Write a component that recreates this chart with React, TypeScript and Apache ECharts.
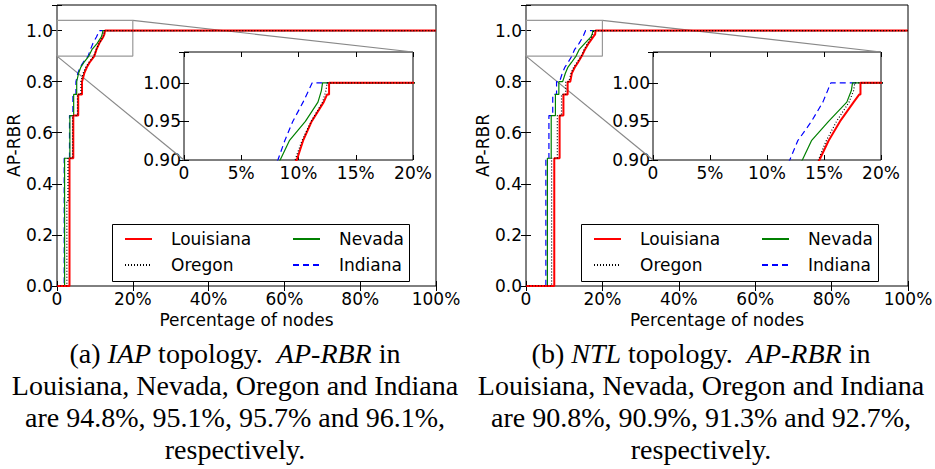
import React, { useEffect, useRef } from 'react';
import * as echarts from 'echarts';

// ---------- data (x = percentage of nodes, y = AP-RBR) ----------
const iapLouisiana: [number, number][] = [[0, 0], [3.3, 0], [3.3, 0.5], [4.3, 0.5], [4.3, 0.667], [5.6, 0.667], [5.6, 0.75], [6.6, 0.75], [6.6, 0.8], [7.2, 0.833], [7.9, 0.857], [8.6, 0.875], [9.85, 0.9], [10.4, 0.925], [11.15, 0.95], [12.2, 0.975], [12.5, 0.985], [12.67, 0.985], [12.67, 1.0], [100, 1.0]];
const iapOregon: [number, number][] = [[0, 0], [2.6, 0], [2.6, 0.333], [2.9, 0.333], [2.9, 0.5], [4.1, 0.5], [4.1, 0.667], [5.4, 0.667], [5.4, 0.75], [6.3, 0.75], [6.3, 0.8], [6.9, 0.833], [7.6, 0.857], [8.4, 0.875], [9.7, 0.9], [10.3, 0.925], [11.1, 0.95], [12.1, 0.975], [12.4, 0.99], [12.5, 1.0], [100, 1.0]];
const iapNevada: [number, number][] = [[0, 0], [2.0, 0], [2.0, 0.5], [3.4, 0.5], [3.4, 0.667], [4.4, 0.667], [4.4, 0.75], [5.2, 0.75], [5.2, 0.8], [5.7, 0.833], [6.3, 0.857], [7.1, 0.875], [8.4, 0.9], [9.2, 0.925], [10.6, 0.95], [11.7, 0.975], [12.0, 0.99], [12.1, 1.0], [100, 1.0]];
const iapIndiana: [number, number][] = [[0, 0], [1.9, 0], [1.9, 0.5], [3.3, 0.5], [3.3, 0.667], [4.2, 0.667], [4.2, 0.75], [5.0, 0.75], [5.0, 0.8], [5.5, 0.833], [6.1, 0.857], [6.9, 0.875], [8.2, 0.9], [8.8, 0.925], [9.5, 0.95], [10.4, 0.975], [11.2, 1.0], [100, 1.0]];

const ntlLouisiana: [number, number][] = [[0, 0], [7.4, 0], [7.4, 0.5], [8.8, 0.5], [8.8, 0.667], [9.8, 0.667], [9.8, 0.75], [10.9, 0.75], [10.9, 0.8], [11.6, 0.8], [12.0, 0.833], [12.8, 0.857], [13.6, 0.875], [14.6, 0.9], [15.4, 0.925], [16.4, 0.95], [17.6, 0.975], [18.1, 0.985], [18.2, 0.985], [18.2, 1.0], [100, 1.0]];
const ntlOregon: [number, number][] = [[0, 0], [6.7, 0], [6.7, 0.5], [8.2, 0.5], [8.2, 0.667], [9.3, 0.667], [9.3, 0.75], [10.4, 0.75], [10.4, 0.8], [11.2, 0.8], [11.8, 0.833], [12.5, 0.857], [13.3, 0.875], [14.5, 0.9], [15.2, 0.925], [16.1, 0.95], [17.2, 0.975], [17.6, 0.99], [17.7, 1.0], [100, 1.0]];
const ntlNevada: [number, number][] = [[0, 0], [5.6, 0], [5.6, 0.5], [6.6, 0.5], [6.6, 0.667], [7.7, 0.667], [7.7, 0.75], [8.6, 0.75], [8.6, 0.8], [9.6, 0.8], [10.3, 0.833], [11.0, 0.857], [11.9, 0.875], [13.1, 0.9], [13.9, 0.925], [15.4, 0.95], [17.0, 0.975], [17.4, 0.99], [17.5, 1.0], [100, 1.0]];
const ntlIndiana: [number, number][] = [[0, 0], [5.2, 0], [5.2, 0.5], [6.0, 0.5], [6.0, 0.667], [7.0, 0.667], [7.0, 0.75], [8.0, 0.75], [8.0, 0.8], [8.8, 0.8], [9.5, 0.833], [10.2, 0.857], [11.0, 0.875], [12.0, 0.9], [12.7, 0.925], [13.9, 0.95], [14.9, 0.975], [15.6, 1.0], [100, 1.0]];

const zoomBox: [number, number][] = [[0, 0.9], [20, 0.9], [20, 1.04], [0, 1.04], [0, 0.9]];

const legendCol1 = ['Louisiana', 'Oregon'];
const legendCol2 = ['Nevada', 'Indiana'];
const drawOrder = ['Indiana', 'Nevada', 'Louisiana', 'Oregon'];

const captionA = ['Louisiana, Nevada, Oregon and Indiana', 'are 94.8%, 95.1%, 95.7% and 96.1%,', 'respectively.'];
const captionB = ['Louisiana, Nevada, Oregon and Indiana', 'are 90.8%, 90.9%, 91.3% and 92.7%,', 'respectively.'];

// ---------- styles ----------
const FONT = 'DejaVu Sans';
const SERIF = 'Liberation Serif';
const FS = 17;
const lineStyles: Record<string, any> = {
  Louisiana: { color: '#ff0000', width: 2, type: 'solid' },
  Oregon: { color: '#000000', width: 1.2, type: [1, 2] },
  Nevada: { color: '#008000', width: 1.2, type: 'solid' },
  Indiana: { color: '#0000ff', width: 1.2, type: [6, 4] },
};

const pctFmt = (v: number) => (v === 0 ? '0' : `${Math.round(v)}%`);

function mkX(gridIndex: number, max: number, interval: number, top: boolean) {
  return {
    type: 'value', gridIndex, min: 0, max, interval,
    position: top ? 'top' : 'bottom',
    axisLine: { show: false },
    splitLine: { show: false },
    axisTick: { show: true, inside: true, length: 5, lineStyle: { color: '#000', width: 1 } },
    axisLabel: { show: !top, color: '#000', fontFamily: FONT, fontSize: FS, margin: 4, formatter: pctFmt },
  };
}
function mkY(gridIndex: number, min: number, max: number, interval: number, right: boolean, digits: number, limit: number) {
  return {
    type: 'value', gridIndex, min, max, interval,
    position: right ? 'right' : 'left',
    axisLine: { show: false },
    splitLine: { show: false },
    axisTick: { show: true, inside: true, length: 5, lineStyle: { color: '#000', width: 1 } },
    axisLabel: {
      show: !right, color: '#000', fontFamily: FONT, fontSize: FS, margin: digits === 2 ? 3 : 4,
      formatter: (v: number) => (v > limit + 1e-6 ? '' : v.toFixed(digits)),
    },
  };
}

export default function App() {
  const ref = useRef<HTMLDivElement>(null);
  useEffect(() => {
    if (!ref.current) return;
    const chart = echarts.init(ref.current, null, { renderer: 'svg' });
    const topo = [
      { Louisiana: iapLouisiana, Oregon: iapOregon, Nevada: iapNevada, Indiana: iapIndiana } as Record<string, [number, number][]>,
      { Louisiana: ntlLouisiana, Oregon: ntlOregon, Nevada: ntlNevada, Indiana: ntlIndiana } as Record<string, [number, number][]>,
    ];
    const mainLeft = [57, 526];
    const mainWidth = [379, 382];
    const insetLeft = [184, 653];
    const insetWidth = [229, 228];
    const grids: any[] = [];
    const xAxes: any[] = [];
    const yAxes: any[] = [];
    const series: any[] = [];
    const rectSeriesIdx: number[] = [];
    const insetSeriesIdx: number[] = [];
    for (let t = 0; t < 2; t++) {
      grids.push({ left: mainLeft[t], top: 5, width: mainWidth[t], height: 281, show: true, borderColor: '#000', borderWidth: 1, backgroundColor: 'transparent', outerBoundsMode: 'none', containLabel: false });
      grids.push({ left: insetLeft[t], top: 52, width: insetWidth[t], height: 108, show: true, borderColor: '#000', borderWidth: 1, backgroundColor: '#fff', outerBoundsMode: 'none', containLabel: false });
      const g0 = 2 * t, g1 = 2 * t + 1;
      const xm = xAxes.length;
      xAxes.push({
        ...mkX(g0, 100, 20, false),
        name: 'Percentage of nodes', nameLocation: 'middle', nameGap: 21,
        nameTextStyle: { color: '#000', fontFamily: FONT, fontSize: FS },
      });
      xAxes.push(mkX(g0, 100, 20, true));
      const xi = xAxes.length;
      xAxes.push(mkX(g1, 20, 5, false));
      xAxes.push(mkX(g1, 20, 5, true));
      const ym = yAxes.length;
      yAxes.push({
        ...mkY(g0, 0, 1.1, 0.2, false, 1, 1.0),
        name: 'AP-RBR', nameLocation: 'middle', nameGap: 27,
        nameTextStyle: { color: '#000', fontFamily: FONT, fontSize: FS },
      });
      yAxes.push(mkY(g0, 0, 1.1, 0.2, true, 1, 1.0));
      const yi = yAxes.length;
      yAxes.push(mkY(g1, 0.9, 1.04, 0.05, false, 2, 1.0));
      yAxes.push(mkY(g1, 0.9, 1.04, 0.05, true, 2, 1.0));

      rectSeriesIdx.push(series.length);
      series.push({
        type: 'line', name: 'zoom box', xAxisIndex: xm, yAxisIndex: ym, data: zoomBox,
        symbol: 'none', silent: true, z: 1, lineStyle: { color: '#999', width: 1.2 },
      });
      for (const r of drawOrder) {
        series.push({
          type: 'line', name: r, xAxisIndex: xm, yAxisIndex: ym, data: topo[t][r],
          symbol: 'none', lineStyle: lineStyles[r], itemStyle: { color: lineStyles[r].color },
        });
      }
      insetSeriesIdx.push(series.length);
      for (const r of drawOrder) {
        series.push({
          type: 'line', name: r, xAxisIndex: xi, yAxisIndex: yi, data: topo[t][r],
          symbol: 'none', lineStyle: lineStyles[r], itemStyle: { color: lineStyles[r].color },
        });
      }
    }

    const legendBase = {
      orient: 'vertical', itemWidth: 27, itemHeight: 12, itemGap: 9, padding: 0,
      selectedMode: false,
      itemStyle: { opacity: 0 },
      textStyle: { color: '#000', fontFamily: FONT, fontSize: FS, padding: [0, 0, 0, 14] },
    };
    const legends = [
      { ...legendBase, data: legendCol1, left: 124, top: 230.5 },
      { ...legendBase, data: legendCol2, left: 292, top: 230.5 },
      { ...legendBase, data: legendCol1, left: 593, top: 230.5 },
      { ...legendBase, data: legendCol2, left: 761, top: 230.5 },
    ];

    chart.setOption({
      animation: false,
      backgroundColor: '#fff',
      grid: grids,
      xAxis: xAxes,
      yAxis: yAxes,
      legend: legends,
      series,
    });

    const serif = { fontFamily: SERIF, fontSize: 28, color: '#000' };
    const graphics: any[] = [];
    const centers = [235, 701];
    const tags = [['(a) ', 'IAP'], ['(b) ', 'NTL']];
    const caps = [captionA, captionB];
    const lineYs = [353, 385, 417, 449];
    for (let t = 0; t < 2; t++) {
      // legend frame
      graphics.push({
        type: 'rect', z: 3,
        shape: { x: 112 + 469 * t + 0.5, y: 224.5, width: 297, height: 57 },
        style: { fill: '#fff', stroke: '#000', lineWidth: 1 },
      });
      // connectors
      const bTR = chart.convertToPixel({ seriesIndex: rectSeriesIdx[t] }, [20, 1.04]) as number[];
      const bBL = chart.convertToPixel({ seriesIndex: rectSeriesIdx[t] }, [0, 0.9]) as number[];
      const iTR = chart.convertToPixel({ seriesIndex: insetSeriesIdx[t] }, [20, 1.04]) as number[];
      const iBL = chart.convertToPixel({ seriesIndex: insetSeriesIdx[t] }, [0, 0.9]) as number[];
      graphics.push({ type: 'line', z: 1, shape: { x1: bTR[0], y1: bTR[1], x2: iTR[0], y2: iTR[1] }, style: { stroke: '#888', lineWidth: 1.2 } });
      graphics.push({ type: 'line', z: 1, shape: { x1: bBL[0], y1: bBL[1], x2: iBL[0], y2: iBL[1] }, style: { stroke: '#888', lineWidth: 1.2 } });
      // caption
      graphics.push({
        type: 'text', z: 5,
        style: {
          text: `{n|${tags[t][0]}}{i|${tags[t][1]}}{n| topology.  }{i|AP-RBR}{n| in}`,
          x: centers[t], y: lineYs[0], align: 'center', verticalAlign: 'middle',
          textAlign: 'center', textVerticalAlign: 'middle',
          ...serif,
          rich: { n: { ...serif }, i: { ...serif, fontStyle: 'italic' } },
        },
      });
      caps[t].forEach((line, k) => {
        graphics.push({
          type: 'text', z: 5,
          style: {
            text: line, x: centers[t], y: lineYs[k + 1], align: 'center', verticalAlign: 'middle',
            textAlign: 'center', textVerticalAlign: 'middle', ...serif,
          },
        });
      });
    }
    chart.setOption({ graphic: graphics });

    return () => chart.dispose();
  }, []);
  return <div ref={ref} style={{ position: 'fixed', left: 0, top: 0, width: 935, height: 469 }} />;
}
